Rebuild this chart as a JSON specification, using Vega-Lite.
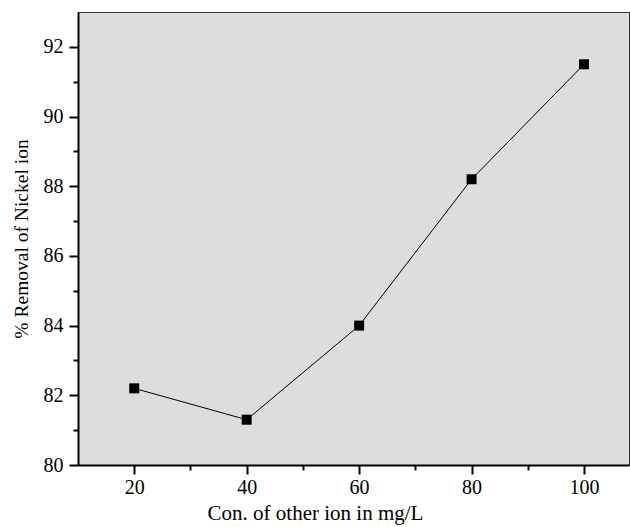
{
  "$schema": "https://vega.github.io/schema/vega-lite/v6.json",
  "width": 551,
  "height": 453,
  "autosize": {"type": "none"},
  "padding": {"left": 78, "top": 12, "right": 1, "bottom": 62},
  "background": "white",
  "config": {
    "view": {"fill": "#dcdddd", "stroke": "#333333", "strokeWidth": 1},
    "axis": {
      "grid": false,
      "domainColor": "black",
      "domainWidth": 2,
      "tickColor": "black",
      "tickWidth": 2,
      "labelFont": "Liberation Sans Narrow",
      "labelFontSize": 20,
      "labelColor": "black",
      "titleFont": "Liberation Serif",
      "titleFontSize": 21,
      "titleFontWeight": "normal",
      "titleColor": "black"
    }
  },
  "data": {
    "values": [
      {"conc": 20, "removal": 82.2},
      {"conc": 40, "removal": 81.3},
      {"conc": 60, "removal": 84.0},
      {"conc": 80, "removal": 88.2},
      {"conc": 100, "removal": 91.5}
    ]
  },
  "layer": [
    {
      "mark": {
        "type": "line",
        "color": "black",
        "strokeWidth": 1,
        "point": {"shape": "square", "size": 100, "filled": true, "color": "black", "opacity": 1}
      },
      "encoding": {
        "x": {
          "field": "conc",
          "type": "quantitative",
          "scale": {"domain": [10, 108], "nice": false, "zero": false},
          "axis": {
            "orient": "bottom",
            "values": [20, 40, 60, 80, 100],
            "tickSize": 9,
            "labelPadding": 3,
            "title": "Con. of other ion in mg/L",
            "titleX": 237,
            "titleY": 54,
            "titleAlign": "center",
            "titleBaseline": "alphabetic",
            "titleAnchor": null
          }
        },
        "y": {
          "field": "removal",
          "type": "quantitative",
          "scale": {"domain": [80, 93], "nice": false, "zero": false},
          "axis": {
            "orient": "left",
            "values": [80, 82, 84, 86, 88, 90, 92],
            "tickSize": 9,
            "labelPadding": 6,
            "title": "% Removal of Nickel ion",
            "titleFontSize": 19.5,
            "titlePadding": 12
          }
        }
      }
    },
    {
      "mark": {"type": "point", "opacity": 0},
      "encoding": {
        "x": {
          "field": "conc",
          "type": "quantitative",
          "scale": {"domain": [10, 108], "nice": false, "zero": false},
          "axis": {
            "orient": "bottom",
            "values": [30, 50, 70, 90],
            "tickSize": 5,
            "labels": false,
            "domain": false,
            "title": null
          }
        },
        "y": {
          "field": "removal",
          "type": "quantitative",
          "scale": {"domain": [80, 93], "nice": false, "zero": false},
          "axis": {
            "orient": "left",
            "values": [81, 83, 85, 87, 89, 91],
            "tickSize": 5,
            "labels": false,
            "domain": false,
            "title": null
          }
        }
      }
    }
  ],
  "resolve": {"axis": {"x": "independent", "y": "independent"}}
}
